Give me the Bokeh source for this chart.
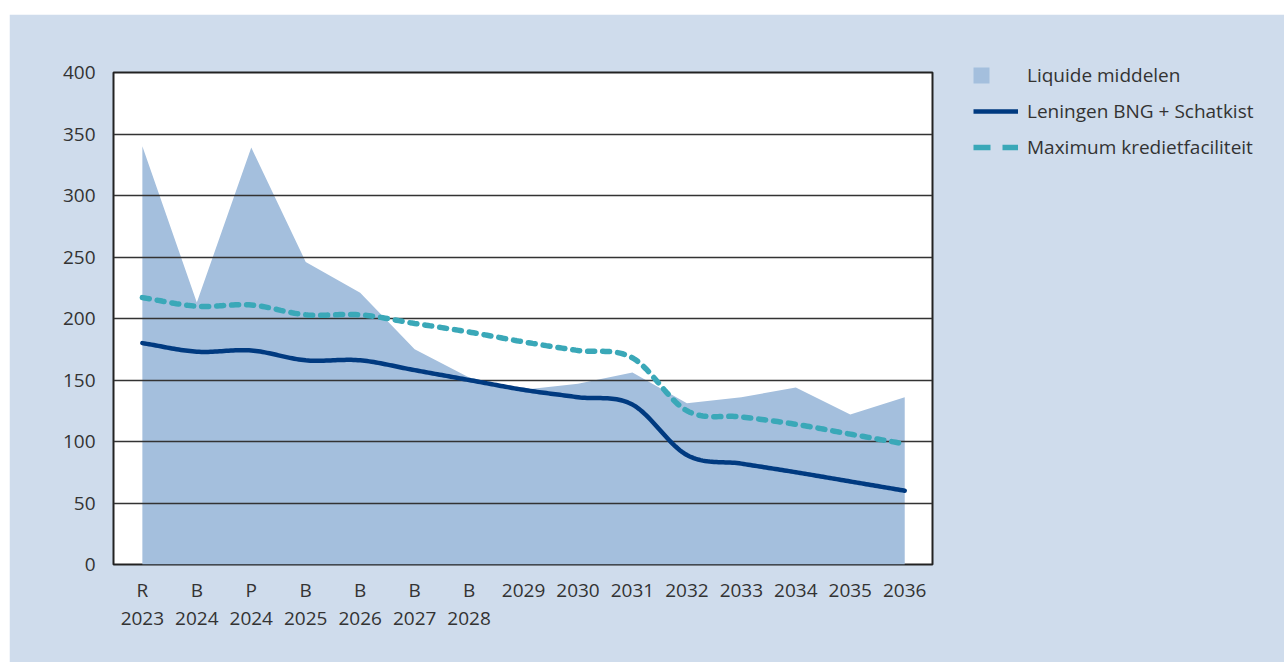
import numpy as np
from bokeh.plotting import figure
from bokeh.models import (Range1d, FixedTicker, Legend, LegendItem, Spacer)
from bokeh.layouts import column, row
from bokeh.embed import file_html
from bokeh.resources import INLINE

categories = ["R\n2023", "B\n2024", "P\n2024", "B\n2025", "B\n2026", "B\n2027", "B\n2028",
              "2029", "2030", "2031", "2032", "2033", "2034", "2035", "2036"]
liquide = [340, 213, 339, 246, 221, 175, 152, 142, 147, 156, 131, 136, 144, 122, 136]
leningen = [180, 173, 174, 166, 166, 158, 150, 142, 136, 130, 89, 82, 75, 67.5, 60]
krediet = [217, 210, 211, 203, 203, 196, 189, 181, 174, 168, 125, 120, 114, 106, 98]
yticks = [0, 50, 100, 150, 200, 250, 300, 350, 400]
series_names = ["Liquide middelen", "Leningen BNG + Schatkist", "Maximum kredietfaciliteit"]

FONT = "Open Sans"
TXT = "#333333"
BG = "#cfdcec"
C_AREA = "#a4bfdd"
C_LEN = "#003a80"
C_KRED = "#3aa8b8"


def smooth(xs, ys, n=24):
    xs = np.asarray(xs, float)
    ys = np.asarray(ys, float)
    m = np.zeros_like(ys)
    m[1:-1] = (ys[2:] - ys[:-2]) / 2.0
    m[0] = ys[1] - ys[0]
    m[-1] = ys[-1] - ys[-2]
    ox, oy = [], []
    for i in range(len(xs) - 1):
        t = np.linspace(0, 1, n, endpoint=False)
        h00 = 2 * t**3 - 3 * t**2 + 1
        h10 = t**3 - 2 * t**2 + t
        h01 = -2 * t**3 + 3 * t**2
        h11 = t**3 - t**2
        ox.extend(xs[i] + t * (xs[i + 1] - xs[i]))
        oy.extend(h00 * ys[i] + h10 * m[i] + h01 * ys[i + 1] + h11 * m[i + 1])
    ox.append(xs[-1])
    oy.append(ys[-1])
    return ox, oy


x = list(range(len(categories)))

p = figure(width=1275, height=648, frame_width=819, frame_height=492,
           output_backend="svg", toolbar_location=None,
           x_range=Range1d(-0.53, 14.51), y_range=Range1d(0, 400),
           min_border_left=104, min_border_right=352, min_border_top=58, min_border_bottom=98)
p.border_fill_color = BG
p.background_fill_color = "white"
p.outline_line_color = "#222222"
p.outline_line_width = 2

p.varea(x=x, y1=[0] * len(x), y2=liquide, fill_color=C_AREA, level="underlay")

lx, ly = smooth(x, leningen)
kx, ky = smooth(x, krediet)
l1 = p.line(lx, ly, line_color=C_LEN, line_width=4.5, line_cap="round", line_join="round")
l2 = p.line(kx, ky, line_color=C_KRED, line_width=5.5, line_dash="7 8", line_cap="round")

# legend-only swatches (off-screen data); leading gap in dash shifts the swatch right
sq = p.line([-100, -99], [-100, -100], line_color=C_AREA, line_width=16,
            line_dash="0 51 16 600", line_cap="butt")
g1 = p.line([-100, -99], [-100, -100], line_color=C_LEN, line_width=4.5,
            line_dash="0 51 45 600", line_cap="butt")
g2 = p.line([-100, -99], [-100, -100], line_color=C_KRED, line_width=5.5,
            line_dash="0 51 17 12 16 600", line_cap="butt")

p.xgrid.visible = False
p.ygrid.ticker = FixedTicker(ticks=yticks)
p.ygrid.grid_line_color = "#333333"
p.ygrid.grid_line_width = 1.5

p.yaxis.ticker = FixedTicker(ticks=yticks)
p.xaxis.ticker = FixedTicker(ticks=x)
p.xaxis.major_label_overrides = {i: c for i, c in enumerate(categories)}
for ax in (p.xaxis[0], p.yaxis[0]):
    ax.axis_line_color = None
    ax.major_tick_line_color = None
    ax.minor_tick_line_color = None
    ax.major_label_text_font = FONT
    ax.major_label_text_font_size = "19px"
    ax.major_label_text_color = TXT
p.yaxis.major_label_standoff = 12
p.xaxis.major_label_standoff = 6
p.xaxis.major_label_text_line_height = 1.08

leg = Legend(items=[LegendItem(label=series_names[0], renderers=[sq]),
                    LegendItem(label=series_names[1], renderers=[g1]),
                    LegendItem(label=series_names[2], renderers=[g2])],
             location="top_left", glyph_width=96, glyph_height=20, label_standoff=9,
             spacing=10)
leg.padding = 0
leg.margin = -10
leg.border_line_color = None
leg.background_fill_alpha = 0
leg.label_text_font = FONT
leg.label_text_font_size = "19px"
leg.label_text_color = TXT
leg.label_height = 20
p.add_layout(leg, "right")

layout = column(Spacer(width=1284, height=14), row(Spacer(width=9, height=648), p))
open("out.html", "w").write(file_html(layout, INLINE))
